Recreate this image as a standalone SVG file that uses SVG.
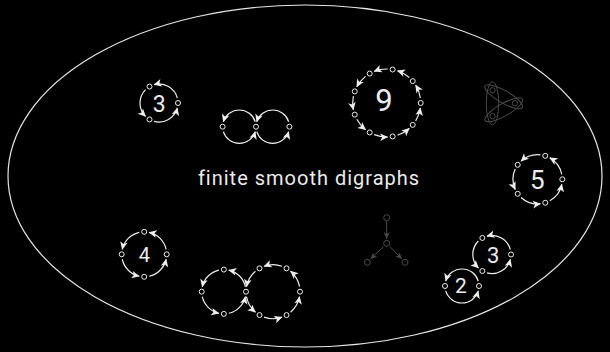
<svg xmlns="http://www.w3.org/2000/svg" width="610" height="352" viewBox="0 0 610 352">
<defs>
<style>
.bg{fill:#000}
.frame{fill:none;stroke:#e6e6e6;stroke-width:1.2}
.v{fill:#000;stroke:#eeeeee;stroke-width:1}
.e{fill:none;stroke:#eeeeee;stroke-width:1.2;marker-end:url(#ah)}
.gv{fill:none;stroke:#4a4a4a;stroke-width:1}
.ge{fill:none;stroke:#4a4a4a;stroke-width:1;marker-end:url(#gah)}
.lbl{font-family:Roboto,"Liberation Sans",sans-serif;fill:#ececec;text-anchor:middle}
</style>
<marker id="ah" markerUnits="userSpaceOnUse" viewBox="-9 -5 10 10" markerWidth="10" markerHeight="10" refX="0" refY="0" orient="auto" overflow="visible">
<path d="M0.5,0 L-7.5,-3.8 L-5.5,0 L-7.5,3.8 Z" fill="#eeeeee"/>
</marker>
<marker id="gah" markerUnits="userSpaceOnUse" viewBox="-8 -4 9 8" markerWidth="9" markerHeight="8" refX="0" refY="0" orient="auto" overflow="visible">
<path d="M0,0 L-6.5,-3 L-4.8,0 L-6.5,3 Z" fill="#4a4a4a"/>
</marker>
</defs>
<rect class="bg" x="0" y="0" width="610" height="352"/>
<ellipse class="frame" cx="305" cy="176" rx="297" ry="171"/>
<text class="lbl" x="309" y="185" font-size="20" letter-spacing="1">finite smooth digraphs</text>

<g id="connectors">
<!-- 3 top-left -->
<path class="e" d="M145.57,89.57 A19,19 0 0 0 145.57,116.43"/>
<path class="e" d="M154.08,121.35 A19,19 0 0 0 177.35,107.92"/>
<path class="e" d="M177.35,98.08 A19,19 0 0 0 154.08,84.65"/>
<!-- 9 -->
<path class="e" d="M415.66,120.82 A34,34 0 0 0 420.34,107.97"/>
<path class="e" d="M397.43,135.26 A34,34 0 0 0 409.27,128.43"/>
<path class="e" d="M374.18,134.61 A34,34 0 0 0 387.65,136.99"/>
<path class="e" d="M356.79,119.17 A34,34 0 0 0 365.58,129.65"/>
<path class="e" d="M353.39,96.16 A34,34 0 0 0 353.39,109.84"/>
<path class="e" d="M365.58,76.35 A34,34 0 0 0 356.79,86.83"/>
<path class="e" d="M387.65,69.01 A34,34 0 0 0 374.18,71.39"/>
<path class="e" d="M409.27,77.57 A34,34 0 0 0 397.43,70.74"/>
<path class="e" d="M420.34,98.03 A34,34 0 0 0 415.66,85.18"/>
<!-- 5 -->
<path class="e" d="M549.82,200.73 A24.65,24.65 0 0 0 561.80,184.26"/>
<path class="e" d="M521.03,197.50 A24.65,24.65 0 0 0 540.40,203.80"/>
<path class="e" d="M515.20,169.12 A24.65,24.65 0 0 0 515.20,189.48"/>
<path class="e" d="M540.40,154.80 A24.65,24.65 0 0 0 521.03,161.10"/>
<path class="e" d="M561.80,174.34 A24.65,24.65 0 0 0 549.82,157.87"/>
<!-- 4 -->
<path class="e" d="M149.15,276.25 A22.5,22.5 0 0 0 166.15,259.25"/>
<path class="e" d="M122.25,259.25 A22.5,22.5 0 0 0 139.25,276.25"/>
<path class="e" d="M139.25,232.35 A22.5,22.5 0 0 0 122.25,249.35"/>
<path class="e" d="M166.15,249.35 A22.5,22.5 0 0 0 149.15,232.35"/>
<!-- 3 pair -->
<path class="e" d="M478.39,240.99 A19.1,19.1 0 0 0 478.39,268.01"/>
<path class="e" d="M486.96,272.95 A19.1,19.1 0 0 0 510.35,259.44"/>
<path class="e" d="M510.35,249.56 A19.1,19.1 0 0 0 486.96,236.05"/>
<!-- 2 pair -->
<path class="e" d="M478.27,281.06 A17,17 0 0 0 445.73,281.06"/>
<path class="e" d="M445.73,290.94 A17,17 0 0 0 478.27,290.94"/>
<!-- small figure eight -->
<path class="e" d="M255.26,121.78 A16.7,16.7 0 0 0 223.34,121.78"/>
<path class="e" d="M223.34,131.62 A16.7,16.7 0 0 0 255.26,131.62"/>
<path class="e" d="M288.66,121.78 A16.7,16.7 0 0 0 256.74,121.78"/>
<path class="e" d="M256.74,131.62 A16.7,16.7 0 0 0 288.66,131.62"/>
<!-- big figure eight, left -->
<path class="e" d="M228.8,313.29 A22.15,22.15 0 0 0 245.44,296.65"/>
<path class="e" d="M202.26,296.65 A22.15,22.15 0 0 0 218.9,313.29"/>
<path class="e" d="M218.9,270.11 A22.15,22.15 0 0 0 202.26,286.75"/>
<path class="e" d="M245.44,286.75 A22.15,22.15 0 0 0 228.8,270.11"/>
<!-- big figure eight, right -->
<path class="e" d="M290.57,312.2 A27,27 0 0 0 299.54,296.67"/>
<path class="e" d="M264.03,317.17 A27,27 0 0 0 281.97,317.17"/>
<path class="e" d="M246.46,296.67 A27,27 0 0 0 255.43,312.2"/>
<path class="e" d="M255.43,271.2 A27,27 0 0 0 246.46,286.73"/>
<path class="e" d="M281.97,266.23 A27,27 0 0 0 264.03,266.23"/>
<path class="e" d="M299.54,286.73 A27,27 0 0 0 290.57,271.2"/>
<!-- gray tree -->
<path class="ge" d="M386.7,221.2 L386.7,238.8"/>
<path class="ge" d="M383.5,246.5 L370.6,259.1"/>
<path class="ge" d="M389.8,246.5 L401.9,259.1"/>
<!-- gray triangle -->
<ellipse class="gv" cx="492.5" cy="103.3" rx="21.5" ry="6.2" transform="rotate(90 492.5 103.3)"/>
<ellipse class="gv" cx="503.75" cy="96.8" rx="21.5" ry="6.2" transform="rotate(30 503.75 96.8)"/>
<ellipse class="gv" cx="503.75" cy="109.8" rx="21.5" ry="6.2" transform="rotate(-30 503.75 109.8)"/>
</g>

<g id="cycle3a">
<text class="lbl" x="159.3" y="112" font-size="23">3</text>
<circle class="v" cx="149.5" cy="86.55" r="2.5"/>
<circle class="v" cx="178" cy="103" r="2.5"/>
<circle class="v" cx="149.5" cy="119.45" r="2.5"/>
</g>
<g id="cycle9">
<text class="lbl" x="384" y="111" font-size="31">9</text>
<circle class="v" cx="420.7" cy="103" r="2.5"/>
<circle class="v" cx="412.74" cy="124.86" r="2.5"/>
<circle class="v" cx="392.6" cy="136.48" r="2.5"/>
<circle class="v" cx="369.7" cy="132.44" r="2.5"/>
<circle class="v" cx="354.75" cy="114.63" r="2.5"/>
<circle class="v" cx="354.75" cy="91.37" r="2.5"/>
<circle class="v" cx="369.7" cy="73.56" r="2.5"/>
<circle class="v" cx="392.6" cy="69.52" r="2.5"/>
<circle class="v" cx="412.74" cy="81.14" r="2.5"/>
</g>
<g id="cycle5">
<text class="lbl" x="537.3" y="188.5" font-size="26">5</text>
<circle class="v" cx="562.3" cy="179.3" r="2.5"/>
<circle class="v" cx="545.27" cy="202.74" r="2.5"/>
<circle class="v" cx="517.71" cy="193.79" r="2.5"/>
<circle class="v" cx="517.71" cy="164.81" r="2.5"/>
<circle class="v" cx="545.27" cy="155.86" r="2.5"/>
</g>
<g id="cycle4">
<text class="lbl" x="144.3" y="261.8" font-size="20">4</text>
<circle class="v" cx="166.7" cy="254.3" r="2.5"/>
<circle class="v" cx="144.2" cy="276.8" r="2.5"/>
<circle class="v" cx="121.7" cy="254.3" r="2.5"/>
<circle class="v" cx="144.2" cy="231.8" r="2.5"/>
</g>
<g id="cycle3b">
<text class="lbl" x="493.3" y="263" font-size="22">3</text>
<circle class="v" cx="482.35" cy="237.96" r="2.5"/>
<circle class="v" cx="511" cy="254.5" r="2.5"/>
<circle class="v" cx="482.35" cy="271.04" r="2.5"/>
</g>
<g id="cycle2">
<text class="lbl" x="461" y="292.5" font-size="21">2</text>
<circle class="v" cx="479" cy="286" r="2.5"/>
<circle class="v" cx="445" cy="286" r="2.5"/>
</g>
<g id="eight-small">
<circle class="v" cx="222.6" cy="126.7" r="2.5"/>
<circle class="v" cx="256" cy="126.7" r="2.5"/>
<circle class="v" cx="289.4" cy="126.7" r="2.5"/>
</g>
<g id="eight-large">
<circle class="v" cx="223.85" cy="269.55" r="2.5"/>
<circle class="v" cx="201.7" cy="291.7" r="2.5"/>
<circle class="v" cx="223.85" cy="313.85" r="2.5"/>
<circle class="v" cx="246" cy="291.7" r="2.5"/>
<circle class="v" cx="300" cy="291.7" r="2.5"/>
<circle class="v" cx="286.5" cy="315.08" r="2.5"/>
<circle class="v" cx="259.5" cy="315.08" r="2.5"/>
<circle class="v" cx="259.5" cy="268.32" r="2.5"/>
<circle class="v" cx="286.5" cy="268.32" r="2.5"/>
</g>
<g id="tree-gray">
<circle class="gv" cx="386.7" cy="217.7" r="3"/>
<circle class="gv" cx="386.7" cy="243.3" r="3"/>
<circle class="gv" cx="367.3" cy="262.3" r="3"/>
<circle class="gv" cx="405" cy="262.3" r="3"/>
</g>
<g id="triangle-gray">
<circle class="gv" cx="492.5" cy="90.31" r="2.7"/>
<circle class="gv" cx="515" cy="103.3" r="2.7"/>
<circle class="gv" cx="492.5" cy="116.29" r="2.7"/>
</g>
</svg>
